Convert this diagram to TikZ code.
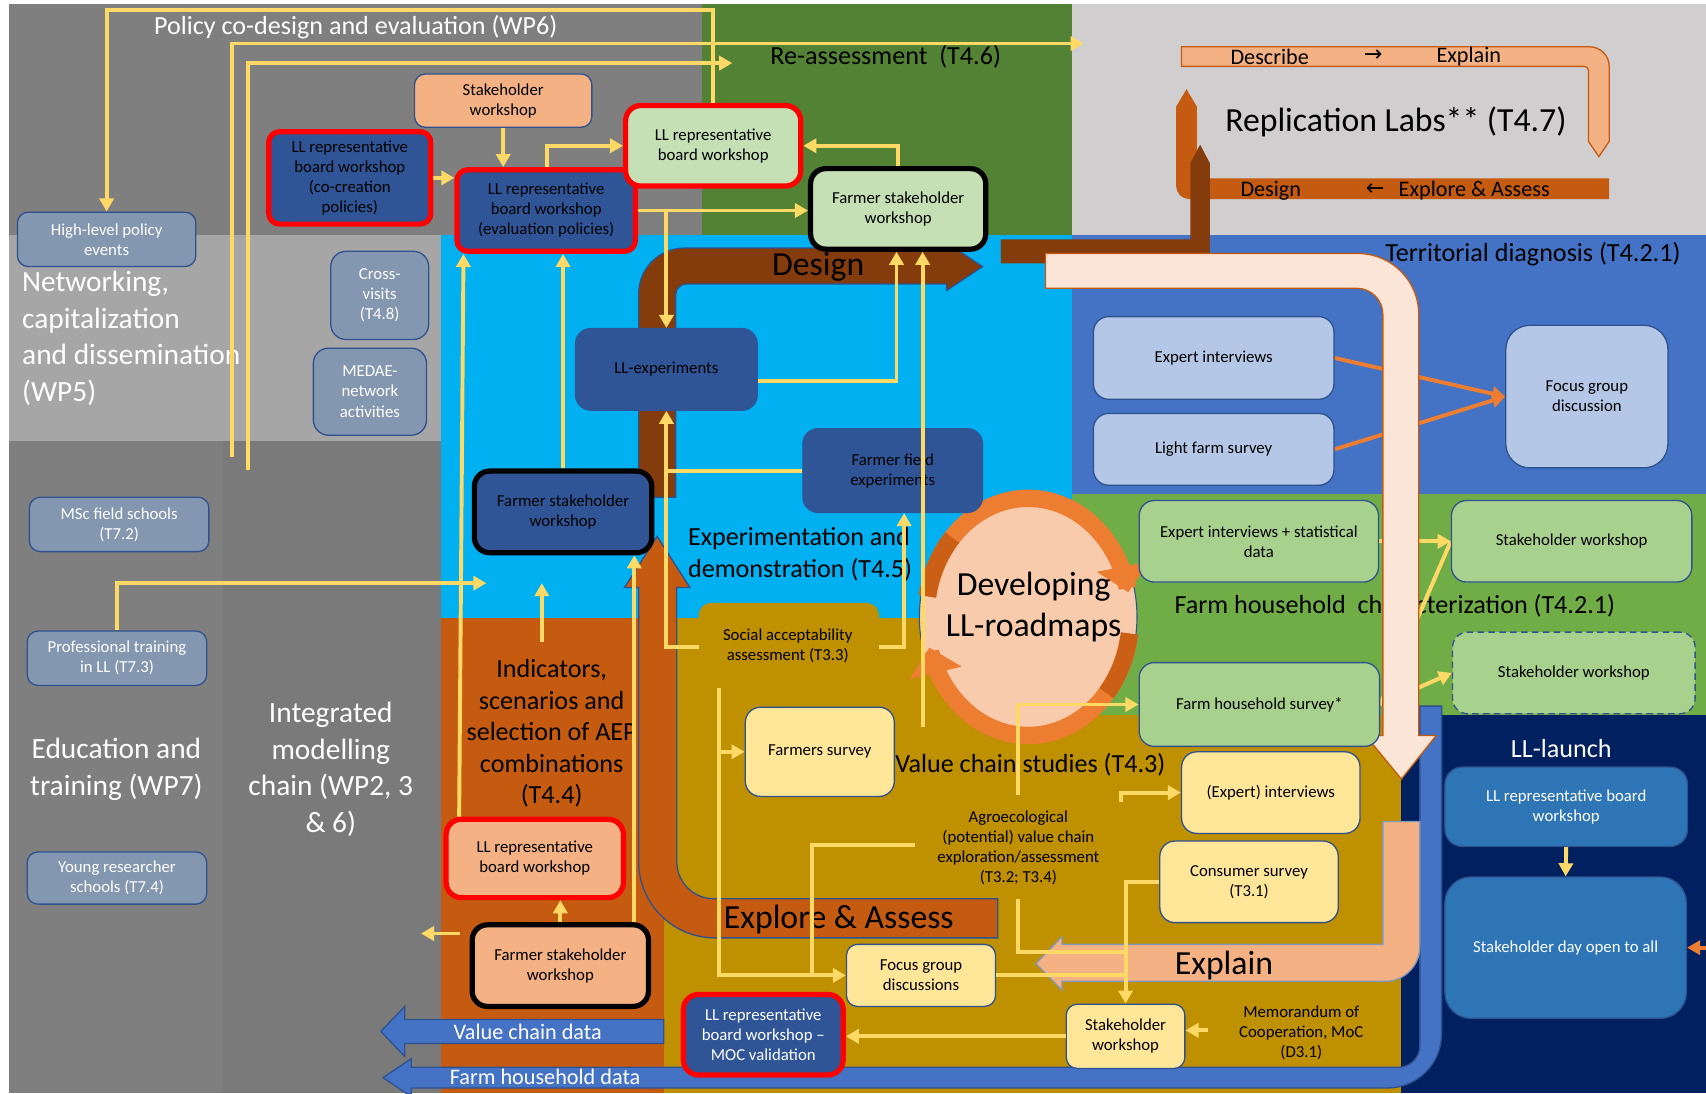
\documentclass[tikz,border=0pt]{standalone}
\usepackage{fontspec}
\setmainfont{Carlito}
\newfontfamily\djv{DejaVu Sans}
\usetikzlibrary{arrows.meta}
\definecolor{dgray}{HTML}{7F7F7F}
\definecolor{lgray}{HTML}{A6A6A6}
\definecolor{ggreen}{HTML}{548235}
\definecolor{rgray}{HTML}{D0CECE}
\definecolor{sky}{HTML}{00B0F0}
\definecolor{tblue}{HTML}{4472C4}
\definecolor{fgreen}{HTML}{70AD47}
\definecolor{goldc}{HTML}{BF9000}
\definecolor{rust}{HTML}{C55A11}
\definecolor{navyc}{HTML}{002060}
\definecolor{brn}{HTML}{843C0C}
\definecolor{peachl}{HTML}{FBE5D6}
\definecolor{salmon}{HTML}{F4B183}
\definecolor{bdark}{HTML}{2F5597}
\definecolor{bgreen}{HTML}{C5E0B4}
\definecolor{bslate}{HTML}{8497B0}
\definecolor{blight}{HTML}{B4C7E7}
\definecolor{bgreen2}{HTML}{A9D18E}
\definecolor{byel}{HTML}{FFE699}
\definecolor{bblue}{HTML}{2E75B6}
\definecolor{ylw}{HTML}{FFD966}
\definecolor{bord}{HTML}{2F528F}
\definecolor{orng}{HTML}{ED7D31}
\definecolor{pch}{HTML}{F8CBAD}
\pgfdeclarelayer{bg}\pgfdeclarelayer{lab}\pgfdeclarelayer{hid}\pgfdeclarelayer{arr}\pgfdeclarelayer{ring}\pgfdeclarelayer{fr}
\pgfsetlayers{bg,lab,hid,arr,ring,main,fr}
\newcommand{\fsbox}{\fontsize{7.7pt}{9.2pt}\selectfont}
\newcommand{\fssec}{\fontsize{12pt}{14.5pt}\selectfont}
\newcommand{\fswp}{\fontsize{13.5pt}{16.8pt}\selectfont}
\newcommand{\fsbig}{\fontsize{15.5pt}{18.5pt}\selectfont}
\newcommand{\fsarr}{\fontsize{10.2pt}{12pt}\selectfont}
\tikzset{
 bxs/.style={rounded corners=5pt, draw=bord, line width=0.6pt, align=center, inner sep=0pt, font=\fsbox, text=black},
 redb/.style={draw=red, line width=2.4pt},
 blkb/.style={draw=black, line width=2.4pt},
 yl/.style={draw=ylw, line width=1.8pt},
 ya/.style={yl, -{Triangle[width=6.5pt,length=6pt]}},
 oa/.style={draw=orng, line width=1.8pt, -{Triangle[width=6.5pt,length=6pt]}},
 lbl/.style={inner sep=0pt, align=center},
 bigarr/.style={line width=0.6pt}
}
\newcommand{\bx}[7]{%
  \pgfmathsetmacro{\bxcx}{(#3+#4)/2}%
  \pgfmathsetmacro{\bxcy}{(#5+#6)/2}%
  \pgfmathsetmacro{\bxw}{(#4-#3)*0.5}%
  \pgfmathsetmacro{\bxh}{(#6-#5)*0.5}%
  \node[bxs,#2,minimum width=\bxw pt,minimum height=\bxh pt] (#1) at (\bxcx,\bxcy) {#7};}
\begin{document}
\begin{tikzpicture}[x=0.5pt,y=-0.5pt]
\useasboundingbox (0,0) rectangle (1568,1005);
% ---------- background regions
\begin{pgfonlayer}{bg}
\fill[white] (0,0) rectangle (1568,1005);
\fill[dgray] (8,4) rectangle (645,216);
\fill[ggreen] (645,4) rectangle (985,216);
\fill[rgray] (985,4) rectangle (1568,216);
\fill[lgray] (8,216) rectangle (405,405);
\fill[dgray] (8,405) rectangle (205,1005);
\fill[dgray!96!black] (205,405) rectangle (405,1005);
\fill[sky] (405,216) rectangle (985,568);
\fill[tblue] (985,216) rectangle (1568,454);
\fill[goldc] (610,568) rectangle (1288,1005);
\fill[fgreen] (985,454) rectangle (1568,657);
\fill[rust] (405,568) rectangle (610,1005);
\fill[navyc] (1288,657) rectangle (1568,1005);
\fill[goldc, rounded corners=6pt] (642,554) rectangle (808,620);
\end{pgfonlayer}
% ---------- region labels
\begin{pgfonlayer}{lab}
\node[lbl, font=\fssec, text=white] (lbpol) at (327,25) {Policy co-design and evaluation (WP6)};
\node[lbl, font=\fssec] (lbre) at (814,52) {Re-assessment\ \ (T4.6)};
\node[lbl, font=\fsbig] (lbrep) at (1283,112) {Replication Labs** (T4.7)};
\node[lbl, font=\fssec] (lbter) at (1409,234) {Territorial diagnosis (T4.2.1)};
\node[lbl, font=\fssec] (lbfh) at (1282,557) {Farm household\ \ characterization (T4.2.1)};
\node[lbl, font=\fswp, text=white, align=left, anchor=west] (lbnet) at (20,311) {Networking,\\capitalization\\and dissemination\\(WP5)};
\node[lbl, font=\fswp, text=white] (lbedu) at (107,707) {Education and\\training (WP7)};
\node[lbl, font=\fswp, text=white] (lbint) at (304,707) {Integrated\\modelling\\chain (WP2, 3\\\& 6)};
\node[lbl, font=\fssec] (lbind) at (507,674) {Indicators,\\scenarios and\\selection of AEP\\combinations\\(T4.4)};
\node[lbl, font=\fssec, align=left, anchor=west] (lbexp) at (632,509.5) {Experimentation and\\demonstration (T4.5)};
\node[lbl, font=\fssec] (lbvc) at (947,703) {Value chain studies (T4.3)};
\node[lbl, font=\fssec, text=white] (lblaunch) at (1435,688) {LL-launch};
\node[lbl, font=\fsbox] (lbsa) at (724,594) {Social acceptability\\assessment (T3.3)};
\node[lbl, font=\fsbox] (lbag) at (936,779) {Agroecological\\(potential) value chain\\exploration/assessment\\(T3.2; T3.4)};
\node[lbl, font=\fsbox] (lbmoc) at (1196,949) {Memorandum of\\Cooperation, MoC\\(D3.1)};
\end{pgfonlayer}
% ---------- big arrows
\begin{pgfonlayer}{arr}
\fill[rust] (1479,164) -- (1100,164) -- (1100,98) -- (1090.5,82) -- (1081,98) [rounded corners=6pt] -- (1081,183) [sharp corners] -- (1479,183) -- cycle;
\fill[brn] (920,220) -- (1094,220) -- (1094,150) -- (1103,133) -- (1112,150) [rounded corners=4pt] -- (1112,242) [sharp corners] -- (920,242) -- cycle;
\filldraw[bigarr, fill=salmon, draw=rust] (1086,43) [rounded corners=9pt] -- (1479,43) [sharp corners] -- (1479,130) -- (1469.5,144) -- (1460,130) [rounded corners=2pt] -- (1460,61) [sharp corners] -- (1086,61) -- cycle;
\filldraw[bigarr, fill=brn, draw=bord] (587,457) [rounded corners=21pt] -- (587,228) [sharp corners] -- (870,228) -- (870,223) -- (903,245) -- (870,267) -- (870,261) [rounded corners=5pt] -- (621,261) [sharp corners] -- (621,457) -- cycle;
\filldraw[bigarr, fill=rust, draw=bord] (917,826) [rounded corners=17pt] -- (622,826) [sharp corners] -- (622,540) -- (634,540) -- (604,493) -- (574,540) -- (587,540) [rounded corners=35pt] -- (587,862) [sharp corners] -- (917,862) -- cycle;
\filldraw[bigarr, fill=tblue, draw=bord] (610,937) -- (372,937) -- (372,925) -- (350,948) -- (372,971) -- (372,959) -- (610,959) -- cycle;
\filldraw[bigarr, fill=tblue, draw=bord] (1305,649) -- (1325,649) [rounded corners=25pt] -- (1325,1000) [sharp corners] -- (378,1000) -- (378,1008) -- (352,990.5) -- (378,973) -- (378,981) [rounded corners=10pt] -- (1305,981) [sharp corners] -- cycle;
\filldraw[bigarr, fill=salmon, draw=bord!60] (1271,755) -- (1305,755) [rounded corners=16pt] -- (1305,902) [sharp corners] -- (976,902) -- (976,910) -- (952,885.5) -- (976,861) -- (976,868) -- (1271,868) -- cycle;
\filldraw[bigarr, fill=peachl, draw=rust] (961,233) [rounded corners=28pt] -- (1304,233) [sharp corners] -- (1304,676) -- (1320,676) -- (1288,716) -- (1255,676) -- (1271,676) [rounded corners=12pt] -- (1271,265) [sharp corners] -- (961,265) -- cycle;
\node[lbl, font=\fsbig] (tdesign) at (752,245) {Design};
\node[lbl, font=\fsbig] (texplore) at (771,845) {Explore \& Assess};
\node[lbl, font=\fsbig] (texplain) at (1125,887) {Explain};
\node[lbl, font=\fsarr, text=white] (tvcd) at (485,948) {Value chain data};
\node[lbl, font=\fsarr, text=white] (tfhd) at (501,990) {Farm household data};
\node[lbl, font=\fsarr] (rdesc) at (1167,52) {Describe};
\node[lbl, font=\fsarr] (rarr1) at (1262,51) {\djv →};
\node[lbl, font=\fsarr] (rexpl) at (1350,52) {Explain};
\node[lbl, font=\fsarr] (rdes) at (1168,175) {Design};
\node[lbl, font=\fsarr] (rarr2) at (1264,174) {\djv ←};
\node[lbl, font=\fsarr] (rexa) at (1355,175) {Explore \& Assess};
\end{pgfonlayer}
% ---------- roadmap ring
\begin{pgfonlayer}{ring}
\filldraw[fill=pch, draw=bord, line width=0.5pt] (945,567) ellipse [x radius=100, y radius=116];
\draw[orng, line width=8pt, -{Triangle[width=24pt,length=12pt]}] plot[domain=190:348, samples=60, smooth] ({945+94*cos(\x)},{567+109*sin(\x)});
\draw[orng, line width=8pt, -{Triangle[width=24pt,length=12pt]}] plot[domain=10:165, samples=60, smooth] ({945+94*cos(\x)},{567+109*sin(\x)});
\draw[rust!85!orng, line width=8pt] plot[domain=190:222, samples=20, smooth] ({945+94*cos(\x)},{567+109*sin(\x)});
\draw[rust!85!orng, line width=8pt] plot[domain=8:40, samples=20, smooth] ({945+94*cos(\x)},{567+109*sin(\x)});
\end{pgfonlayer}
\node[lbl, font=\fsbig] (tdev) at (950,558) {Developing\\LL-roadmaps};
% ---------- nodes
\bx{swtop}{fill=salmon}{381}{544}{68}{117}{Stakeholder\\workshop}
\bx{llco}{fill=bdark,redb}{247}{396}{121}{206}{LL representative\\board workshop\\(co-creation\\policies)}
\bx{lleval}{fill=bdark,redb}{420}{584}{156}{231}{LL representative\\board workshop\\(evaluation policies)}
\bx{llgreen}{fill=bgreen,redb,rounded corners=7pt}{575}{736}{97}{171}{LL representative\\board workshop}
\bx{farmgreen}{fill=bgreen,blkb,rounded corners=7pt}{745}{906}{155}{229}{Farmer stakeholder\\workshop}
\bx{hlp}{fill=bslate,text=white}{16}{180}{195}{245}{High-level policy\\events}
\bx{cross}{fill=bslate,text=white,rounded corners=7pt}{304}{394}{231}{312}{Cross-\\visits\\(T4.8)}
\bx{medae}{fill=bslate,text=white,rounded corners=7pt}{288}{392}{320}{400}{MEDAE-\\network\\activities}
\bx{msc}{fill=bslate,text=white}{27}{192}{457}{507}{MSc field schools\\(T7.2)}
\bx{prof}{fill=bslate,text=white}{25}{190}{580}{630}{Professional training\\in LL (T7.3)}
\bx{young}{fill=bslate,text=white}{25}{190}{783}{831}{Young researcher\\schools (T7.4)}
\bx{llexp}{fill=bdark,draw=bdark,rounded corners=7pt}{529}{696}{302}{377}{LL-experiments}
\bx{ffe}{fill=bdark,draw=bdark,rounded corners=7pt}{738}{903}{394}{471}{Farmer field\\experiments}
\bx{fsdark}{fill=bdark,blkb,rounded corners=7pt}{436}{599}{433}{508}{Farmer stakeholder\\workshop}
\bx{llpeach}{fill=salmon,redb,rounded corners=7pt}{410}{573}{753}{825}{LL representative\\board workshop}
\bx{fspeach}{fill=salmon,blkb,rounded corners=7pt}{434}{596}{850}{925}{Farmer stakeholder\\workshop}
\bx{farmsurv}{fill=byel,rounded corners=7pt}{685}{822}{650}{732}{Farmers survey}
\bx{expint}{fill=byel,rounded corners=7pt}{1086}{1250}{691}{766}{(Expert) interviews}
\bx{consumer}{fill=byel,rounded corners=7pt}{1066}{1230}{773}{848}{Consumer survey\\(T3.1)}
\bx{focusd}{fill=byel}{778}{915}{868}{925}{Focus group\\discussions}
\bx{moc}{fill=bdark,redb,text=white,rounded corners=7pt}{628}{775}{914}{988}{LL representative\\board workshop –\\MOC validation}
\bx{swgold}{fill=byel}{980}{1089}{923}{982}{Stakeholder\\workshop}
\bx{eis}{fill=bgreen2,rounded corners=7pt}{1047}{1267}{460}{535}{Expert interviews + statistical\\data}
\bx{sw1}{fill=bgreen2,rounded corners=7pt}{1334}{1555}{460}{535}{Stakeholder workshop}
\bx{sw2}{fill=bgreen2,rounded corners=7pt,dash pattern=on 3pt off 2pt}{1335}{1558}{581}{656}{Stakeholder workshop}
\bx{fhs}{fill=bgreen2,rounded corners=7pt}{1047}{1268}{609}{686}{Farm household survey*}
\bx{ei}{fill=blight,rounded corners=7pt}{1005}{1226}{291}{367}{Expert interviews}
\bx{lfs}{fill=blight,rounded corners=7pt}{1005}{1226}{380}{446}{Light farm survey}
\bx{fgd}{fill=blight,rounded corners=11pt}{1384}{1533}{299}{430}{Focus group\\discussion}
\bx{lllaunch}{fill=bblue,draw=bord,text=white,rounded corners=8pt}{1328}{1551}{705}{778}{LL representative board\\workshop}
\bx{sday}{fill=bblue,draw=bord,text=white,rounded corners=12pt}{1328}{1550}{806}{936}{Stakeholder day open to all}
% ---------- connectors hidden behind the big peach arrow
\begin{pgfonlayer}{hid}
\draw[ya] (eis.east) -- (sw1.west);
\draw[yl] (fhs.east) -- (sw1.west);
\draw[ya] (fhs.east) -- (sw2.west);
\draw[oa] (ei.east) -- (fgd.west);
\draw[oa] (lfs.east) -- (fgd.west);
\end{pgfonlayer}
% ---------- connectors
\begin{pgfonlayer}{fr}
\coordinate (bS) at (213,420); \coordinate (bE) at (996,40);
\coordinate (cS) at (228,432); \coordinate (cE) at (673,58);
\coordinate (saL) at (642,595); \coordinate (saR) at (808,595); \coordinate (saB) at (661,632);
\coordinate (agL) at (841,777); \coordinate (agT) at (936,731); \coordinate (agB) at (936,826);
\coordinate (eiS) at (1030,737); \coordinate (mocT) at (1110,947);
\coordinate (indT) at (498,590); \coordinate (indE) at (498,536);
\coordinate (profE) at (447,536); \coordinate (fsL) at (423,858); \coordinate (fsE) at (387,858);
\coordinate (vS) at (848,668); \coordinate (rE) at (1570,871);
\coordinate (jA) at (746,897); \coordinate (jB) at (1034,875);
\draw[ya] (llgreen.north) |- (hlp.north |- 0,9) -- (hlp.north);
\draw[ya] (bS) |- (bE);
\draw[ya] (cS) |- (cE);
\draw[ya] (swtop.south) -- (swtop.south |- lleval.north);
\draw[ya] (llco.east) -- (llco.east -| lleval.west);
\draw[ya] (lleval.north -| 503,0) |- (llgreen.west);
\draw[ya] (farmgreen.north) |- (llgreen.east);
\draw[ya] (lleval.east) -- (lleval.east -| farmgreen.west);
\draw[ya] (llexp.north |- lleval.east) -- (llexp.north);
\draw[ya] (llexp.east |- 0,350) -| (farmgreen.south -| 824,0);
\draw[ya] (vS) -- (farmgreen.south -| vS);
\draw[yl] (ffe.west) -- (ffe.west -| llexp.south);
\draw[ya] (saL) -| (llexp.south);
\draw[ya] (saR) -| (ffe.south -| 831,0);
\draw[ya] (fsdark.north) -- (fsdark.north |- lleval.south);
\draw[ya] (llpeach.north -| 422,0) -- (lleval.south -| 426,0);
\draw[ya] (fspeach.north) -- (fspeach.north |- llpeach.south);
\draw[ya] (fspeach.north -| 583,0) -- (fsdark.south -| 583,0);
\draw[ya] (fsL) -- (fsE);
\draw[ya] (indT) -- (indE);
\draw[ya] (prof.north) |- (profE);
\draw[ya] (saB) |- (focusd.west);
\draw[ya] (farmsurv.west -| saB) -- (farmsurv.west);
\draw[yl] (agL) -| (jA);
\draw[ya] (agT) |- (fhs.west);
\draw[yl] (agB) |- (jB);
\draw[yl] (focusd.east) -- (focusd.east -| swgold.north);
\draw[ya] (consumer.west) -| (swgold.north);
\draw[ya] (eiS) |- (expint.west);
\draw[ya] (swgold.west) -- (swgold.west -| moc.east);
\draw[ya] (mocT) -- (mocT -| swgold.east);
\draw[ya] (lllaunch.south) -- (sday.north);
\draw[oa] (rE) -- (sday.east);
\end{pgfonlayer}
\end{tikzpicture}
\end{document}
